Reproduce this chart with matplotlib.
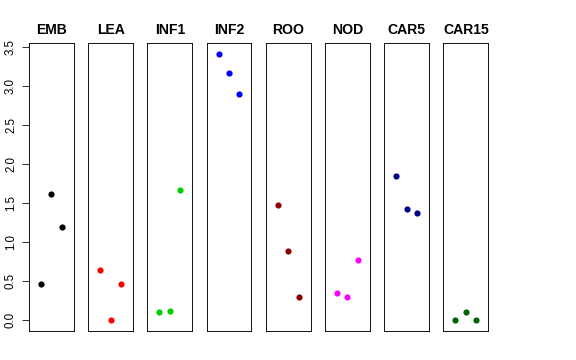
import matplotlib
matplotlib.use("Agg")
import matplotlib.pyplot as plt

plt.rcParams['font.family'] = ['Liberation Sans', 'DejaVu Sans']

groups = ["EMB", "LEA", "INF1", "INF2", "ROO", "NOD", "CAR5", "CAR15"]
values = {
    "EMB":   [0.46, 1.62, 1.20],
    "LEA":   [0.65, 0.00, 0.46],
    "INF1":  [0.11, 0.12, 1.67],
    "INF2":  [3.41, 3.16, 2.90],
    "ROO":   [1.48, 0.89, 0.30],
    "NOD":   [0.35, 0.30, 0.77],
    "CAR5":  [1.85, 1.43, 1.37],
    "CAR15": [0.00, 0.11, 0.00],
}
colors = ["black", "red", "#00CD00", "blue", "#8B0000", "magenta", "#00008B", "#006400"]
yticks = [0.0, 0.5, 1.0, 1.5, 2.0, 2.5, 3.0, 3.5]
reps = [1, 2, 3]

W, H = 576, 360
fig = plt.figure(figsize=(W / 72, H / 72), dpi=72)

ymin, ymax = 0.0, max(max(v) for v in values.values())
yr = ymax - ymin
ylim = (ymin - 0.04 * yr, ymax + 0.04 * yr)
xlim = (0 - 0.04 * 4, 4 + 0.04 * 4)

left0 = 29.0
step = 59.2
pw = 44.8
bottom = (H - 331.0) / H
height = (331.0 - 43.3) / H

for i, g in enumerate(groups):
    ax = fig.add_axes([(left0 + i * step) / W, bottom, pw / W, height])
    ax.plot(reps, values[g], 'o', color=colors[i], markersize=6.2, markeredgewidth=0)
    ax.set_xlim(*xlim)
    ax.set_ylim(*ylim)
    ax.set_xticks([])
    ax.set_title(g, fontsize=14, fontweight='bold', pad=9)
    for s in ax.spines.values():
        s.set_linewidth(0.9)
        s.set_color('black')
    if i == 0:
        ax.set_yticks(yticks)
        ax.set_yticklabels([f"{t:.1f}" for t in yticks], rotation=90, va='center', fontsize=11.5)
        ax.tick_params(axis='y', length=7, width=0.8, pad=5)
    else:
        ax.set_yticks([])

fig.savefig("out.png", dpi=72)
